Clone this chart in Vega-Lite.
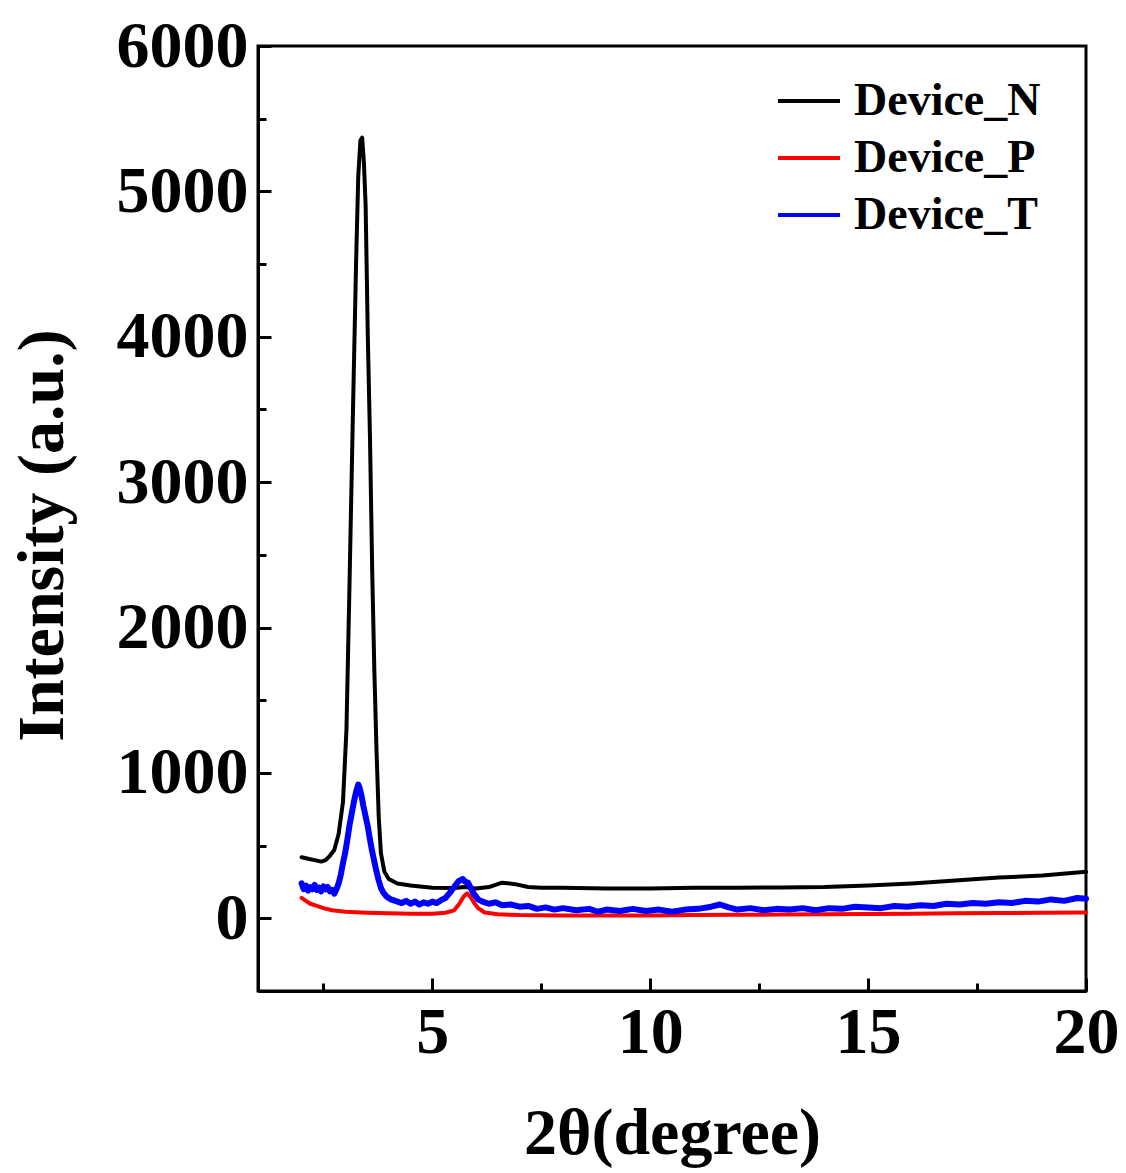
{
  "$schema": "https://vega.github.io/schema/vega-lite/v6.json",
  "width": 828,
  "height": 945,
  "autosize": {"type": "none"},
  "padding": {"left": 258, "top": 46, "right": 40, "bottom": 182},
  "background": "white",
  "config": {
    "view": {"stroke": "black", "strokeWidth": 3},
    "font": "Liberation Serif",
    "axis": {
      "domainColor": "black", "domainWidth": 3, "tickColor": "black", "tickWidth": 3,
      "labelFont": "Liberation Serif", "labelFontWeight": "bold", "labelFontSize": 66, "labelColor": "black",
      "titleFont": "Liberation Serif", "titleFontWeight": "bold", "titleFontSize": 66, "titleColor": "black",
      "grid": false, "labelFlush": false
    }
  },
  "data": {"values": [
    {"x": 2.0, "y": 420, "s": "Device_N"}, {"x": 2.15, "y": 410, "s": "Device_N"}, {"x": 2.3, "y": 400, "s": "Device_N"}, {"x": 2.45, "y": 390, "s": "Device_N"}, {"x": 2.55, "y": 400, "s": "Device_N"}, {"x": 2.65, "y": 430, "s": "Device_N"}, {"x": 2.75, "y": 470, "s": "Device_N"}, {"x": 2.85, "y": 580, "s": "Device_N"}, {"x": 2.95, "y": 800, "s": "Device_N"}, {"x": 3.03, "y": 1300, "s": "Device_N"}, {"x": 3.1, "y": 2300, "s": "Device_N"}, {"x": 3.18, "y": 3500, "s": "Device_N"}, {"x": 3.25, "y": 4500, "s": "Device_N"}, {"x": 3.3, "y": 5100, "s": "Device_N"}, {"x": 3.35, "y": 5350, "s": "Device_N"}, {"x": 3.39, "y": 5370, "s": "Device_N"}, {"x": 3.43, "y": 5200, "s": "Device_N"}, {"x": 3.47, "y": 4900, "s": "Device_N"}, {"x": 3.52, "y": 4000, "s": "Device_N"}, {"x": 3.57, "y": 3300, "s": "Device_N"}, {"x": 3.62, "y": 2400, "s": "Device_N"}, {"x": 3.67, "y": 1700, "s": "Device_N"}, {"x": 3.72, "y": 1150, "s": "Device_N"}, {"x": 3.77, "y": 700, "s": "Device_N"}, {"x": 3.82, "y": 450, "s": "Device_N"}, {"x": 3.9, "y": 320, "s": "Device_N"}, {"x": 4.0, "y": 270, "s": "Device_N"}, {"x": 4.2, "y": 240, "s": "Device_N"}, {"x": 4.5, "y": 225, "s": "Device_N"}, {"x": 5.0, "y": 210, "s": "Device_N"}, {"x": 5.5, "y": 208, "s": "Device_N"}, {"x": 5.75, "y": 215, "s": "Device_N"}, {"x": 6.0, "y": 205, "s": "Device_N"}, {"x": 6.3, "y": 215, "s": "Device_N"}, {"x": 6.6, "y": 245, "s": "Device_N"}, {"x": 6.9, "y": 235, "s": "Device_N"}, {"x": 7.2, "y": 215, "s": "Device_N"}, {"x": 7.5, "y": 210, "s": "Device_N"}, {"x": 8, "y": 210, "s": "Device_N"}, {"x": 9, "y": 205, "s": "Device_N"}, {"x": 10, "y": 205, "s": "Device_N"}, {"x": 11, "y": 210, "s": "Device_N"}, {"x": 12, "y": 210, "s": "Device_N"}, {"x": 13, "y": 212, "s": "Device_N"}, {"x": 14, "y": 215, "s": "Device_N"}, {"x": 15, "y": 225, "s": "Device_N"}, {"x": 16, "y": 240, "s": "Device_N"}, {"x": 17, "y": 260, "s": "Device_N"}, {"x": 18, "y": 280, "s": "Device_N"}, {"x": 19, "y": 295, "s": "Device_N"}, {"x": 20, "y": 320, "s": "Device_N"},

    {"x": 2.0, "y": 140, "s": "Device_P"}, {"x": 2.1, "y": 120, "s": "Device_P"}, {"x": 2.2, "y": 100, "s": "Device_P"}, {"x": 2.35, "y": 85, "s": "Device_P"}, {"x": 2.5, "y": 70, "s": "Device_P"}, {"x": 2.7, "y": 55, "s": "Device_P"}, {"x": 3.0, "y": 45, "s": "Device_P"}, {"x": 3.5, "y": 38, "s": "Device_P"}, {"x": 4.0, "y": 34, "s": "Device_P"}, {"x": 4.5, "y": 32, "s": "Device_P"}, {"x": 5.0, "y": 32, "s": "Device_P"}, {"x": 5.3, "y": 38, "s": "Device_P"}, {"x": 5.5, "y": 55, "s": "Device_P"}, {"x": 5.62, "y": 100, "s": "Device_P"}, {"x": 5.72, "y": 150, "s": "Device_P"}, {"x": 5.8, "y": 172, "s": "Device_P"}, {"x": 5.87, "y": 150, "s": "Device_P"}, {"x": 5.95, "y": 110, "s": "Device_P"}, {"x": 6.05, "y": 70, "s": "Device_P"}, {"x": 6.2, "y": 40, "s": "Device_P"}, {"x": 6.5, "y": 28, "s": "Device_P"}, {"x": 7, "y": 22, "s": "Device_P"}, {"x": 8, "y": 20, "s": "Device_P"}, {"x": 9, "y": 20, "s": "Device_P"}, {"x": 10, "y": 20, "s": "Device_P"}, {"x": 11, "y": 22, "s": "Device_P"}, {"x": 12, "y": 24, "s": "Device_P"}, {"x": 13, "y": 26, "s": "Device_P"}, {"x": 14, "y": 28, "s": "Device_P"}, {"x": 15, "y": 30, "s": "Device_P"}, {"x": 16, "y": 32, "s": "Device_P"}, {"x": 17, "y": 34, "s": "Device_P"}, {"x": 18, "y": 36, "s": "Device_P"}, {"x": 19, "y": 38, "s": "Device_P"}, {"x": 20, "y": 40, "s": "Device_P"},

    {"x": 2.0, "y": 240, "s": "Device_T"}, {"x": 2.05, "y": 200, "s": "Device_T"}, {"x": 2.1, "y": 225, "s": "Device_T"}, {"x": 2.15, "y": 190, "s": "Device_T"}, {"x": 2.2, "y": 215, "s": "Device_T"}, {"x": 2.25, "y": 200, "s": "Device_T"}, {"x": 2.3, "y": 230, "s": "Device_T"}, {"x": 2.35, "y": 195, "s": "Device_T"}, {"x": 2.4, "y": 210, "s": "Device_T"}, {"x": 2.45, "y": 185, "s": "Device_T"}, {"x": 2.5, "y": 220, "s": "Device_T"}, {"x": 2.55, "y": 200, "s": "Device_T"}, {"x": 2.6, "y": 215, "s": "Device_T"}, {"x": 2.65, "y": 185, "s": "Device_T"}, {"x": 2.7, "y": 195, "s": "Device_T"}, {"x": 2.75, "y": 170, "s": "Device_T"}, {"x": 2.8, "y": 200, "s": "Device_T"}, {"x": 2.85, "y": 240, "s": "Device_T"}, {"x": 2.9, "y": 300, "s": "Device_T"}, {"x": 2.95, "y": 380, "s": "Device_T"}, {"x": 3.0, "y": 450, "s": "Device_T"}, {"x": 3.05, "y": 540, "s": "Device_T"}, {"x": 3.1, "y": 640, "s": "Device_T"}, {"x": 3.15, "y": 720, "s": "Device_T"}, {"x": 3.2, "y": 800, "s": "Device_T"}, {"x": 3.25, "y": 870, "s": "Device_T"}, {"x": 3.3, "y": 920, "s": "Device_T"}, {"x": 3.33, "y": 900, "s": "Device_T"}, {"x": 3.37, "y": 850, "s": "Device_T"}, {"x": 3.42, "y": 770, "s": "Device_T"}, {"x": 3.47, "y": 700, "s": "Device_T"}, {"x": 3.52, "y": 630, "s": "Device_T"}, {"x": 3.57, "y": 540, "s": "Device_T"}, {"x": 3.62, "y": 460, "s": "Device_T"}, {"x": 3.67, "y": 390, "s": "Device_T"}, {"x": 3.72, "y": 320, "s": "Device_T"}, {"x": 3.77, "y": 260, "s": "Device_T"}, {"x": 3.82, "y": 210, "s": "Device_T"}, {"x": 3.88, "y": 175, "s": "Device_T"}, {"x": 3.95, "y": 150, "s": "Device_T"}, {"x": 4.05, "y": 130, "s": "Device_T"}, {"x": 4.15, "y": 120, "s": "Device_T"}, {"x": 4.3, "y": 105, "s": "Device_T"}, {"x": 4.4, "y": 120, "s": "Device_T"}, {"x": 4.5, "y": 100, "s": "Device_T"}, {"x": 4.6, "y": 115, "s": "Device_T"}, {"x": 4.7, "y": 95, "s": "Device_T"}, {"x": 4.8, "y": 110, "s": "Device_T"}, {"x": 4.9, "y": 100, "s": "Device_T"}, {"x": 5.0, "y": 115, "s": "Device_T"}, {"x": 5.1, "y": 105, "s": "Device_T"}, {"x": 5.2, "y": 125, "s": "Device_T"}, {"x": 5.3, "y": 140, "s": "Device_T"}, {"x": 5.4, "y": 175, "s": "Device_T"}, {"x": 5.5, "y": 215, "s": "Device_T"}, {"x": 5.6, "y": 255, "s": "Device_T"}, {"x": 5.7, "y": 270, "s": "Device_T"}, {"x": 5.76, "y": 250, "s": "Device_T"}, {"x": 5.82, "y": 245, "s": "Device_T"}, {"x": 5.88, "y": 210, "s": "Device_T"}, {"x": 5.95, "y": 170, "s": "Device_T"}, {"x": 6.05, "y": 130, "s": "Device_T"}, {"x": 6.15, "y": 115, "s": "Device_T"}, {"x": 6.3, "y": 100, "s": "Device_T"}, {"x": 6.45, "y": 110, "s": "Device_T"}, {"x": 6.6, "y": 90, "s": "Device_T"}, {"x": 6.8, "y": 95, "s": "Device_T"}, {"x": 7.0, "y": 80, "s": "Device_T"}, {"x": 7.2, "y": 85, "s": "Device_T"}, {"x": 7.4, "y": 65, "s": "Device_T"}, {"x": 7.6, "y": 75, "s": "Device_T"}, {"x": 7.8, "y": 60, "s": "Device_T"}, {"x": 8.0, "y": 70, "s": "Device_T"}, {"x": 8.3, "y": 55, "s": "Device_T"}, {"x": 8.6, "y": 65, "s": "Device_T"}, {"x": 8.8, "y": 45, "s": "Device_T"}, {"x": 9.0, "y": 60, "s": "Device_T"}, {"x": 9.3, "y": 50, "s": "Device_T"}, {"x": 9.6, "y": 65, "s": "Device_T"}, {"x": 9.9, "y": 50, "s": "Device_T"}, {"x": 10.2, "y": 60, "s": "Device_T"}, {"x": 10.5, "y": 45, "s": "Device_T"}, {"x": 10.8, "y": 60, "s": "Device_T"}, {"x": 11.1, "y": 65, "s": "Device_T"}, {"x": 11.4, "y": 80, "s": "Device_T"}, {"x": 11.6, "y": 95, "s": "Device_T"}, {"x": 11.8, "y": 75, "s": "Device_T"}, {"x": 12.0, "y": 60, "s": "Device_T"}, {"x": 12.3, "y": 70, "s": "Device_T"}, {"x": 12.6, "y": 55, "s": "Device_T"}, {"x": 12.9, "y": 65, "s": "Device_T"}, {"x": 13.2, "y": 60, "s": "Device_T"}, {"x": 13.5, "y": 70, "s": "Device_T"}, {"x": 13.8, "y": 55, "s": "Device_T"}, {"x": 14.1, "y": 70, "s": "Device_T"}, {"x": 14.4, "y": 65, "s": "Device_T"}, {"x": 14.7, "y": 80, "s": "Device_T"}, {"x": 15.0, "y": 75, "s": "Device_T"}, {"x": 15.3, "y": 70, "s": "Device_T"}, {"x": 15.6, "y": 85, "s": "Device_T"}, {"x": 15.9, "y": 80, "s": "Device_T"}, {"x": 16.2, "y": 90, "s": "Device_T"}, {"x": 16.5, "y": 85, "s": "Device_T"}, {"x": 16.8, "y": 100, "s": "Device_T"}, {"x": 17.1, "y": 95, "s": "Device_T"}, {"x": 17.4, "y": 105, "s": "Device_T"}, {"x": 17.7, "y": 100, "s": "Device_T"}, {"x": 18.0, "y": 110, "s": "Device_T"}, {"x": 18.3, "y": 105, "s": "Device_T"}, {"x": 18.6, "y": 120, "s": "Device_T"}, {"x": 18.9, "y": 115, "s": "Device_T"}, {"x": 19.2, "y": 130, "s": "Device_T"}, {"x": 19.5, "y": 120, "s": "Device_T"}, {"x": 19.8, "y": 140, "s": "Device_T"}, {"x": 20.0, "y": 135, "s": "Device_T"}
  ]},
  "encoding": {
    "x": {
      "field": "x", "type": "quantitative",
      "scale": {"domain": [1, 20], "nice": false, "zero": false},
      "axis": {
        "title": "2θ(degree)",
        "values": [2.5, 5, 7.5, 10, 12.5, 15, 17.5, 20],
        "labelExpr": "datum.value % 5 === 0 ? datum.label : ''",
        "tickSize": {"condition": {"test": "datum.value % 5 === 0", "value": -13}, "value": -8},
        "labelPadding": 22,
        "titlePadding": 36
      }
    },
    "y": {
      "field": "y", "type": "quantitative",
      "scale": {"domain": [-500, 6000], "nice": false, "zero": false},
      "axis": {
        "title": "Intensity (a.u.)",
        "values": [0, 500, 1000, 1500, 2000, 2500, 3000, 3500, 4000, 4500, 5000, 5500, 6000],
        "labelExpr": "datum.value % 1000 === 0 ? datum.label : ''",
        "format": "d",
        "tickSize": {"condition": {"test": "datum.value % 1000 === 0", "value": -13}, "value": -8},
        "labelPadding": 23,
        "titlePadding": 40,
        "titleY": 489
      }
    },
    "color": {
      "field": "s", "type": "nominal",
      "scale": {"domain": ["Device_N", "Device_P", "Device_T"], "range": ["black", "#ff0000", "#0000ff"]},
      "legend": {
        "title": null, "orient": "none", "legendX": 518, "legendY": 22,
        "symbolType": "stroke", "symbolSize": 3844, "symbolStrokeWidth": 4,
        "labelFont": "Liberation Serif", "labelFontWeight": "bold", "labelFontSize": 46, "labelColor": "black",
        "labelOffset": 12, "rowPadding": 1, "labelLimit": 400
      }
    }
  },
  "layer": [
    {
      "transform": [{"filter": "datum.s !== 'Device_T'"}],
      "mark": {"type": "line", "strokeJoin": "round", "strokeCap": "round", "strokeWidth": 4}
    },
    {
      "transform": [{"filter": "datum.s === 'Device_T'"}],
      "mark": {"type": "line", "strokeJoin": "round", "strokeCap": "round", "strokeWidth": 6}
    }
  ]
}
